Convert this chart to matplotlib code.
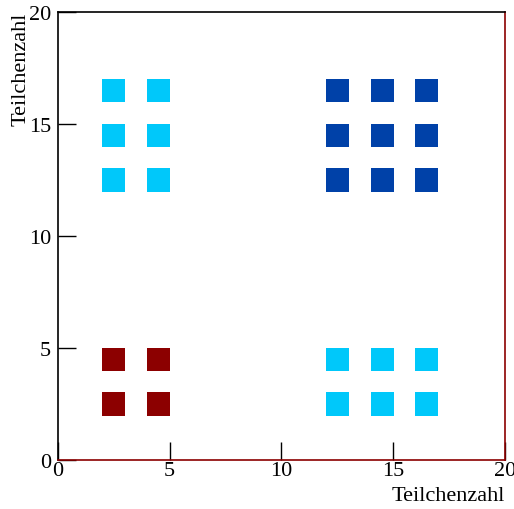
import matplotlib
matplotlib.use('Agg')
import matplotlib.pyplot as plt
from matplotlib.patches import Rectangle

plt.rcParams['font.family'] = ['Liberation Serif', 'DejaVu Serif']
font_size = 16

# cell centres for each group of boxes
cyan_left_x = [2.5, 4.5]
cyan_left_y = [12.5, 14.5, 16.5]
blue_x = [12.5, 14.5, 16.5]
blue_y = [12.5, 14.5, 16.5]
red_x = [2.5, 4.5]
red_y = [2.5, 4.5]
cyan_right_x = [12.5, 14.5, 16.5]
cyan_right_y = [2.5, 4.5]

groups = [
    (cyan_left_x, cyan_left_y, '#00C8FA'),
    (blue_x, blue_y, '#0041A8'),
    (red_x, red_y, '#8C0000'),
    (cyan_right_x, cyan_right_y, '#00C8FA'),
]
box = 1.03

fig = plt.figure(figsize=(5.14, 5.10), dpi=100)
ax = fig.add_axes([0.1128, 0.0961, 0.8697, 0.8784])

for xs, ys, col in groups:
    for x in xs:
        for y in ys:
            ax.add_patch(Rectangle((x - box / 2, y - box / 2), box, box,
                                   facecolor=col, edgecolor='none'))

ax.set_xlim(0, 20)
ax.set_ylim(0, 20)
ax.set_xticks([0, 5, 10, 15, 20])
ax.set_yticks([0, 5, 10, 15, 20])
ax.tick_params(direction='in', length=13, width=1, labelsize=font_size)
ax.tick_params(axis='y', pad=5)
ax.tick_params(axis='x', pad=1)

ax.spines['left'].set_color('black')
ax.spines['top'].set_color('black')
ax.spines['right'].set_color('#8B0000')
ax.spines['bottom'].set_color('#8B0000')
for s in ax.spines.values():
    s.set_linewidth(1.2)

ax.set_xlabel('Teilchenzahl', fontsize=font_size, loc='right', labelpad=4)
ax.set_ylabel('Teilchenzahl', fontsize=font_size, loc='top', labelpad=-1)

fig.savefig('out.png', dpi=100)
